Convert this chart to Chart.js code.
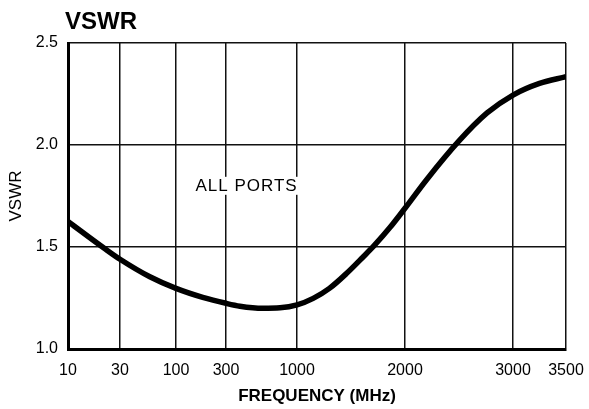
<!DOCTYPE html>
<html>
<head>
<meta charset="utf-8">
<script src="https://cdn.jsdelivr.net/npm/chart.js@4/dist/chart.umd.min.js"></script>
<style>
  html, body { margin: 0; padding: 0; background: #fff; }
</style>
</head>
<body>
<canvas id="vswr" width="589" height="409"></canvas>
<script>
// x axis: labelled frequencies (MHz) and where each one sits along the axis
// (log-ish spacing up to 1000, linear after that, as on the original sheet)
const tickFreqs = [10, 30, 100, 300, 1000, 2000, 3000, 3500];
const tickPos = [0, 0.52, 1.08, 1.58, 2.29, 3.37, 4.45, 4.98];

const yTicks = [1.0, 1.5, 2.0, 2.5];

// curve
const freqs = [10, 22, 30, 57, 100, 180, 300, 380, 560, 750, 1000, 1150, 1300, 1460, 1610, 1720, 1860, 2000, 2200, 2500, 2760, 3000, 3250, 3500];
const vswr = [1.625, 1.49, 1.44, 1.354, 1.297, 1.253, 1.224, 1.21, 1.20, 1.202, 1.216, 1.248, 1.297, 1.371, 1.45, 1.51, 1.595, 1.69, 1.83, 2.02, 2.157, 2.245, 2.302, 2.335];

// "ALL PORTS" note location (MHz, VSWR)
const noteFreq = 425;
const noteVswr = 1.8;

const fontFamily = '"Liberation Sans", Arial, Helvetica, sans-serif';

// frequency -> axis position, using the same piecewise scale as the sheet
function freqToPos(f) {
    const last = tickFreqs.length - 2;
    for (let i = 0; i <= last; i++) {
        const a = tickFreqs[i];
        const b = tickFreqs[i + 1];
        if (f <= b || i === last) {
            const t = b <= 1000
                ? Math.log(f / a) / Math.log(b / a)
                : (f - a) / (b - a);
            return tickPos[i] + t * (tickPos[i + 1] - tickPos[i]);
        }
    }
}

const points = freqs.map((f, i) => ({ x: freqToPos(f), y: vswr[i] }));

//! title + "ALL PORTS" note
const textPlugin = {
    id: 'textPlugin',
    afterDraw(chart) {
        const { ctx, scales: { x, y } } = chart;
        ctx.save();
        ctx.fillStyle = '#000';
        ctx.font = 'bold 24px ' + fontFamily;
        ctx.textAlign = 'left';
        ctx.textBaseline = 'alphabetic';
        ctx.fillText('VSWR', 65, 29);

        ctx.font = '17px ' + fontFamily;
        ctx.letterSpacing = '1px';
        const label = 'ALL PORTS';
        const w = ctx.measureText(label).width;
        const cx = x.getPixelForValue(freqToPos(noteFreq));
        const cy = y.getPixelForValue(noteVswr);
        ctx.fillStyle = '#fff';
        ctx.fillRect(cx - w / 2 - 2, cy - 9, w + 4, 18);
        ctx.fillStyle = '#000';
        ctx.textAlign = 'center';
        ctx.textBaseline = 'middle';
        ctx.fillText(label, cx, cy + 1);
        ctx.restore();
    }
};

const ctx = document.getElementById('vswr').getContext('2d');

new Chart(ctx, {
    type: 'line',
    data: {
        datasets: [{
            data: points,
            borderColor: '#000',
            borderWidth: 5.5,
            pointRadius: 0,
            fill: false,
            cubicInterpolationMode: 'monotone',
        }]
    },
    options: {
        responsive: false,
        animation: false,
        layout: {
            padding: { top: 43, right: 23, left: 0, bottom: 0 }
        },
        plugins: {
            legend: { display: false },
            tooltip: { enabled: false },
        },
        scales: {
            x: {
                type: 'linear',
                min: tickPos[0],
                max: tickPos[tickPos.length - 1],
                afterBuildTicks: (scale) => {
                    scale.ticks = tickPos.map(v => ({ value: v }));
                },
                afterFit: (scale) => {
                    scale.height = 60;
                    scale.paddingLeft = 0;
                    scale.paddingRight = 0;
                },
                grid: {
                    color: '#111',
                    lineWidth: 1.5,
                    drawTicks: false,
                },
                border: {
                    color: '#000',
                    width: 3,
                },
                ticks: {
                    autoSkip: false,
                    maxRotation: 0,
                    padding: 12,
                    color: '#000',
                    font: { family: fontFamily, size: 16 },
                    callback: (value, index) => tickFreqs[index],
                },
                title: {
                    display: true,
                    text: 'FREQUENCY (MHz)',
                    color: '#000',
                    font: { family: fontFamily, size: 17, weight: 'bold', lineHeight: 1.2 },
                    padding: { top: 4, bottom: 2 },
                }
            },
            y: {
                min: 1.0,
                max: 2.5,
                afterBuildTicks: (scale) => {
                    scale.ticks = yTicks.map(v => ({ value: v }));
                },
                afterFit: (scale) => {
                    scale.width = 68;
                },
                grid: {
                    color: '#111',
                    lineWidth: 1.5,
                    drawTicks: false,
                },
                border: {
                    color: '#000',
                    width: 3,
                },
                ticks: {
                    padding: 10,
                    color: '#000',
                    font: { family: fontFamily, size: 16 },
                    callback: (value) => value.toFixed(1),
                },
                title: {
                    display: true,
                    text: 'VSWR',
                    color: '#000',
                    font: { family: fontFamily, size: 17, lineHeight: 1.2 },
                    padding: { top: 6, bottom: 4 },
                }
            }
        }
    },
    plugins: [textPlugin]
});
</script>
</body>
</html>
